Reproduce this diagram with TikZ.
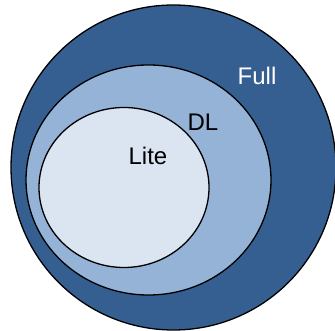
\documentclass[tikz,border=0pt]{standalone}
\usepackage{fontspec}
\setmainfont{Liberation Sans}
\definecolor{fullblue}{RGB}{54,95,145}
\definecolor{dlblue}{RGB}{149,179,215}
\definecolor{liteblue}{RGB}{219,229,241}
\tikzset{set/.style={draw=black,line width=1.3pt},
  setlabel/.style={font=\fontsize{24}{28}\selectfont,inner sep=0pt}}
\begin{document}
\begin{tikzpicture}
[x=1pt,y=1pt]
\useasboundingbox (0,0) rectangle (335,331);
\begin{scope}
\clip (0,0) rectangle (335,331);
\path[set,fill=fullblue] (173.5,163.5) ellipse [x radius=162.5,y radius=162.5];
\end{scope}
\path[set,fill=dlblue] (148.5,151) ellipse [x radius=122.5,y radius=115];
\path[set,fill=liteblue] (124,143.5) ellipse [x radius=85,y radius=80];

\node[setlabel,text=white] (full) at (257,255) {Full};
\node[setlabel] (dl) at (203,209) {DL};
\node[setlabel] (lite) at (148,175) {Lite};
\end{tikzpicture}
\end{document}
